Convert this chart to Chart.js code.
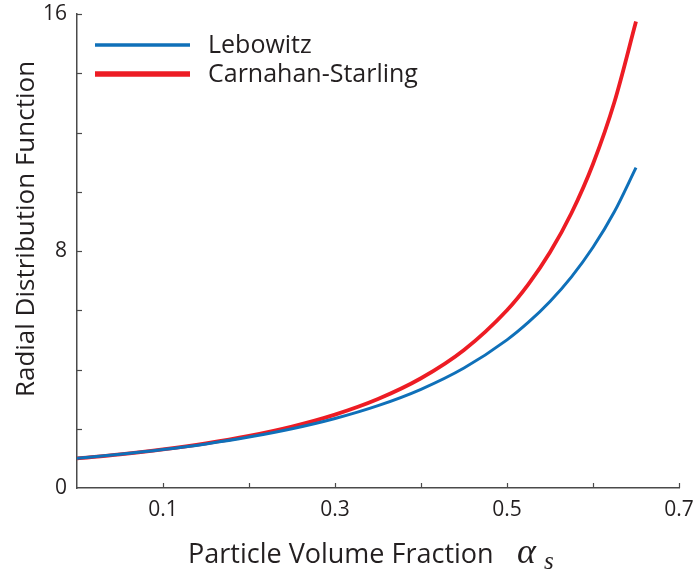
<!DOCTYPE html>
<html>
<head>
<meta charset="utf-8">
<script src="https://cdn.jsdelivr.net/npm/chart.js@4.4.1/dist/chart.umd.min.js"></script>
<style>
html,body{margin:0;padding:0;background:#fff;}
#wrap{width:693px;height:577px;}
</style>
</head>
<body>
<div id="wrap"><canvas id="c" width="693" height="577"></canvas></div>
<script>
// Data
const volumeFraction = [0, 0.05, 0.10, 0.15, 0.20, 0.25, 0.30, 0.35, 0.40, 0.45, 0.50, 0.525, 0.55, 0.575, 0.60, 0.625, 0.65];
const lebowitz       = [1.000, 1.136, 1.296, 1.488, 1.719, 2.000, 2.347, 2.781, 3.333, 4.050, 5.000, 5.596, 6.296, 7.128, 8.125, 9.333, 10.816];
const carnahanStarling = [1.000, 1.137, 1.303, 1.506, 1.758, 2.074, 2.478, 3.004, 3.704, 4.658, 6.000, 6.882, 7.956, 9.282, 10.938, 13.037, 15.743];
const seriesNames = ["Lebowitz", "Carnahan-Starling"];
const xTickLabels = ["0.1", "0.3", "0.5", "0.7"];
const yTickLabels = ["0", "8", "16"];
const xTitle = "Particle Volume Fraction";
const yTitle = "Radial Distribution Function";

const TEXT = "#231f20";
const AXIS = "#4a4a4a";
const FONT = "'Open Sans', 'Noto Sans', sans-serif";
const BLUE = "#0f70b9";
const RED = "#ed1c24";

const pts = ys => volumeFraction.map((x, i) => ({x: x, y: ys[i]}));

const decorations = {
  id: "decorations",
  afterDraw(chart) {
    const ctx = chart.ctx;
    const xs = chart.scales.x, ys = chart.scales.y;
    const area = chart.chartArea;
    ctx.save();
    // inward tick marks
    ctx.strokeStyle = AXIS;
    ctx.lineWidth = 1.2;
    xs.ticks.forEach(t => {
      if (t.value <= 0) return;
      const px = Math.round(xs.getPixelForValue(t.value)) + 0.5;
      ctx.beginPath(); ctx.moveTo(px, area.bottom); ctx.lineTo(px, area.bottom - 5); ctx.stroke();
    });
    ys.ticks.forEach(t => {
      if (t.value <= 0) return;
      const py = Math.round(ys.getPixelForValue(t.value)) + 0.5;
      ctx.beginPath(); ctx.moveTo(area.left, py); ctx.lineTo(area.left + 5, py); ctx.stroke();
    });
    // legend
    const legY = [45, 74];
    const legW = [3.5, 5.5];
    chart.data.datasets.forEach((ds, i) => {
      ctx.strokeStyle = ds.borderColor;
      ctx.lineWidth = legW[i];
      ctx.beginPath(); ctx.moveTo(95, legY[i]); ctx.lineTo(190, legY[i]); ctx.stroke();
      ctx.fillStyle = TEXT;
      ctx.font = "25px " + FONT;
      ctx.textBaseline = "middle";
      ctx.textAlign = "left";
      ctx.fillText(ds.label, 208, legY[i] + 1);
    });
    // y title
    ctx.save();
    ctx.translate(27, 229);
    ctx.rotate(-Math.PI / 2);
    ctx.fillStyle = TEXT;
    ctx.font = "26px " + FONT;
    ctx.textAlign = "center";
    ctx.textBaseline = "middle";
    ctx.fillText(yTitle, 0, 0);
    ctx.restore();
    // x title
    ctx.fillStyle = TEXT;
    ctx.font = "27px " + FONT;
    ctx.textAlign = "left";
    ctx.textBaseline = "alphabetic";
    ctx.fillText(xTitle, 188, 563);
    ctx.font = "italic 36px 'Liberation Serif', 'DejaVu Serif', serif";
    ctx.fillText("\u03B1", 517, 563);
    ctx.font = "italic 25px 'Liberation Serif', 'DejaVu Serif', serif";
    ctx.fillText("s", 544, 569);
    ctx.restore();
  }
};

new Chart(document.getElementById("c"), {
  type: "line",
  data: {
    datasets: [
      { label: seriesNames[0], data: pts(lebowitz), borderColor: BLUE, backgroundColor: BLUE, borderWidth: 3, pointRadius: 0, cubicInterpolationMode: "monotone", fill: false },
      { label: seriesNames[1], data: pts(carnahanStarling), borderColor: RED, backgroundColor: RED, borderWidth: 3.8, pointRadius: 0, cubicInterpolationMode: "monotone", fill: false }
    ]
  },
  options: {
    responsive: false,
    devicePixelRatio: 1,
    animation: false,
    layout: { padding: { top: 14, right: 14, left: 0, bottom: 0 } },
    plugins: { legend: { display: false }, tooltip: { enabled: false }, title: { display: false } },
    scales: {
      x: {
        type: "linear", min: 0, max: 0.7,
        ticks: {
          stepSize: 0.1, color: TEXT, font: { family: FONT, size: 21 }, padding: 9, maxRotation: 0,
          callback: v => { const s = (Math.round(v * 10) / 10).toFixed(1); return xTickLabels.includes(s) ? s : ""; }
        },
        grid: { display: true, drawOnChartArea: false, drawTicks: false },
        border: { display: true, color: AXIS, width: 1.5 },
        afterFit: s => { s.height = 89; s.paddingLeft = 0; s.paddingRight = 0; }
      },
      y: {
        min: 0, max: 16,
        ticks: {
          stepSize: 2, color: TEXT, font: { family: FONT, size: 21 }, padding: 10,
          callback: v => yTickLabels.includes(String(v)) ? String(v) : ""
        },
        grid: { display: true, drawOnChartArea: false, drawTicks: false },
        border: { display: true, color: AXIS, width: 1.5 },
        afterFit: s => { s.width = 77; s.paddingTop = 0; s.paddingBottom = 0; }
      }
    }
  },
  plugins: [decorations]
});
</script>
</body>
</html>
